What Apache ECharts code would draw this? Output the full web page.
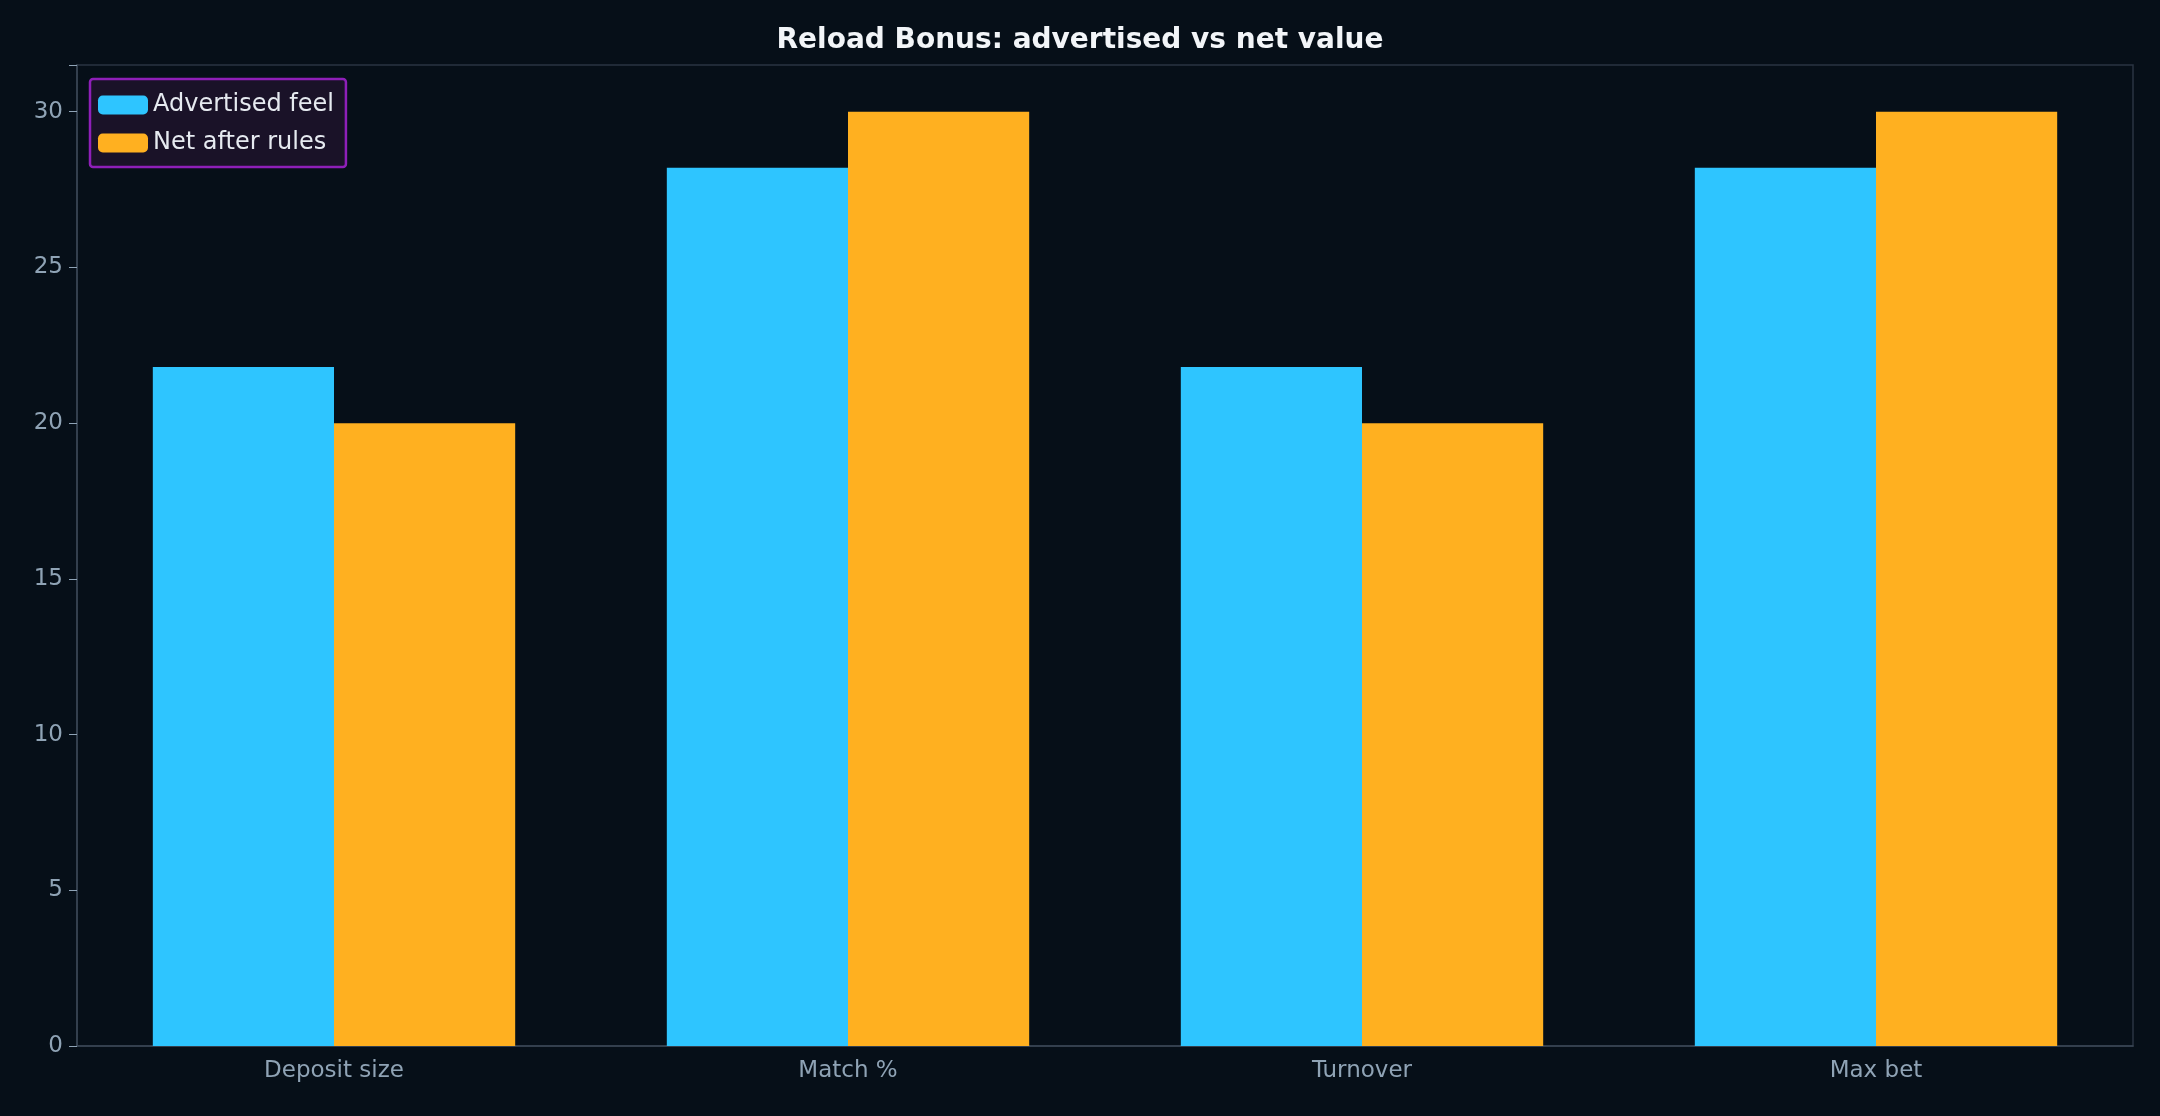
<!DOCTYPE html>
<html><head><meta charset="utf-8">
<script src="https://cdn.jsdelivr.net/npm/echarts@6/dist/echarts.min.js"></script>
<style>html,body{margin:0;padding:0;background:#060f18}#c{width:2160px;height:1116px}</style>
</head><body><div id="c"></div>
<script>
const categories = ["Deposit size", "Match %", "Turnover", "Max bet"];
const advertised = [21.8, 28.2, 21.8, 28.2];
const netAfter = [20, 30, 20, 30];
const yTicks = [0, 5, 10, 15, 20, 25, 30];

const chart = echarts.init(document.getElementById('c'));
const font = 'DejaVu Sans';
chart.setOption({
  backgroundColor: '#060f18',
  animation: false,
  title: {text: 'Reload Bonus: advertised vs net value', left: 'center', top: 22,
    textStyle: {color: '#f2f5f8', fontSize: 28, fontWeight: 'bold', fontFamily: font}},
  legend: {left: 90, top: 79, orient: 'vertical', itemWidth: 50, itemHeight: 19, itemGap: 14,
    padding: [14, 12, 12, 8], backgroundColor: '#1a1228', borderColor: '#8e1fb8', borderWidth: 2.5, borderRadius: 3,
    textStyle: {color: '#e6eaf0', fontSize: 24, fontFamily: font}},
  grid: {left: 77, right: 27, top: 65, bottom: 70, show: true, borderColor: '#2a3542', borderWidth: 1.5},
  xAxis: {type: 'category', data: categories,
    axisLine: {lineStyle: {color: '#3a4756', width: 1.5}},
    axisTick: {alignWithLabel: true, length: 8, lineStyle: {color: '#8fa3b5'}},
    axisLabel: {color: '#8fa3b5', fontSize: 23, fontFamily: font, margin: 14}},
  yAxis: {type: 'value', min: 0, max: 31.5, interval: 5,
    axisLine: {show: true, lineStyle: {color: '#3a4756', width: 1.5}},
    axisTick: {show: true, length: 8, lineStyle: {color: '#8fa3b5'}},
    splitLine: {show: false},
    axisLabel: {color: '#8fa3b5', fontSize: 23, fontFamily: font, margin: 14,
      formatter: v => yTicks.includes(v) ? String(v) : ''}},
  series: [
    {name: 'Advertised feel', type: 'bar', data: advertised, barGap: '0%', barCategoryGap: '29.5%',
      itemStyle: {color: '#2ec5ff'}},
    {name: 'Net after rules', type: 'bar', data: netAfter, itemStyle: {color: '#ffb020'}}
  ]
});
</script></body></html>
